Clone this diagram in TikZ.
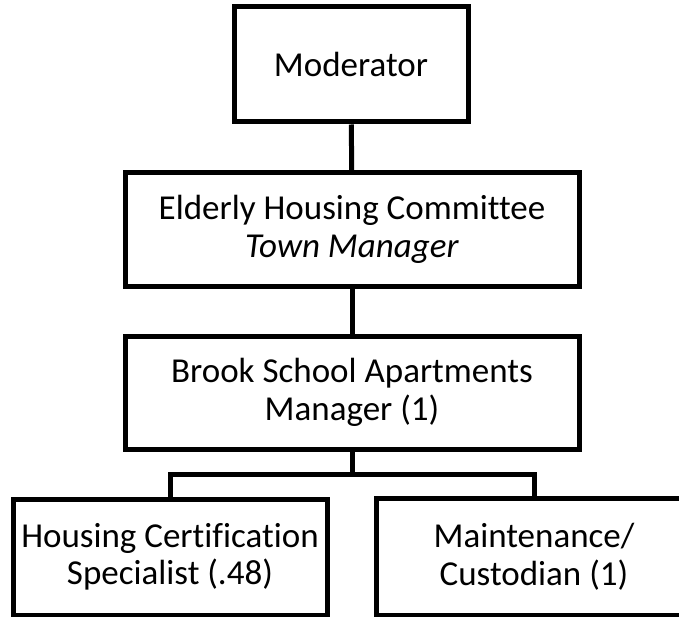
\documentclass[tikz,border=0pt]{standalone}
\usepackage{fontspec}
\setmainfont[Ligatures=NoCommon]{Carlito}
\usetikzlibrary{positioning}

\begin{document}
\begin{tikzpicture}[x=1pt,y=-1pt,
  orgtext/.style={align=center,inner sep=0pt,
    font=\fontsize{35}{37.5}\selectfont},
  orgbox/.style={orgtext,draw,line width=5pt},
  link/.style={line width=5pt}]
\useasboundingbox (0,0) rectangle (679,617);
\clip (0,0) rectangle (679,617);
\node[orgbox,minimum width=234pt,minimum height=115pt] (moderator) at (351,64.5) {Moderator};
\node[orgbox,minimum width=454pt,minimum height=113pt] (committee) at (352,229.5) {Elderly Housing Committee\\ \textit{Town Manager}};
\node[orgbox,minimum width=454pt,minimum height=113pt] (brook) at (352,392.5) {Brook School Apartments\\ Manager (1)};
\node[orgbox,minimum width=314pt,minimum height=116pt] (specialist) at (170,557) {Housing Certification\\ Specialist (.48)};
% right box runs off the page
\node[orgtext,minimum width=314pt,minimum height=116pt] (custodian) at (534,557) {Maintenance/\\ Custodian (1)};
\draw[link] (custodian.north west -| 681,0) -- (custodian.north west) -- (custodian.south west) -- (custodian.south west -| 681,0);
\coordinate (bar) at (352,474);
\draw[link] (moderator) -- (committee);
\draw[link] (committee) -- (brook);
\draw[link] (brook) -- (bar);
\draw[link] (bar) -| (specialist);
\draw[link] (bar) -| (custodian);
\end{tikzpicture}
\end{document}
